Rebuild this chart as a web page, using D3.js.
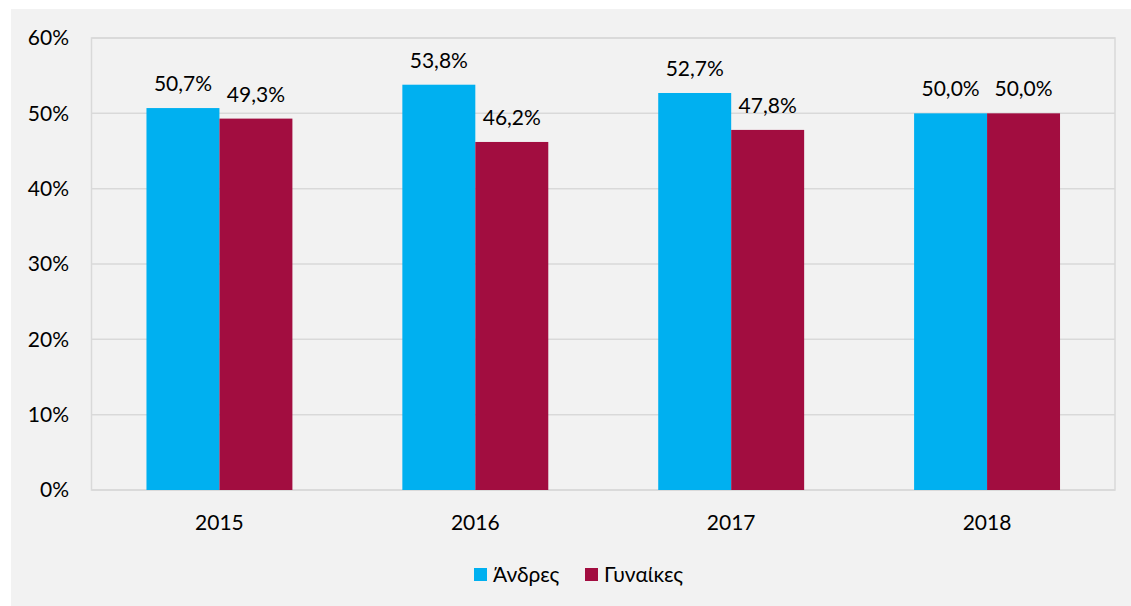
<!DOCTYPE html>
<html><head><meta charset="utf-8">
<script src="https://cdn.jsdelivr.net/npm/d3@7"></script>
<style>body{margin:0;background:#fff}svg{display:block}text{font-family:Lato,"Open Sans",sans-serif;fill:#000}</style>
</head><body><svg id="c" width="1131" height="606"></svg>
<script>
const years = ["2015","2016","2017","2018"];
const seriesNames = ["Άνδρες","Γυναίκες"];
const men = [50.7, 53.8, 52.7, 50.0];
const women = [49.3, 46.2, 47.8, 50.0];
const yTicks = [0,10,20,30,40,50,60];
const colors = ["#00B0F0","#A20D40"];
const FS = 21;

const svg = d3.select("#c");
svg.append("rect").attr("x",11).attr("y",9).attr("width",1120).attr("height",597).attr("fill","#f2f2f2");
const L=91.5,R=1115,T=38,B=490;
const x = d3.scaleBand().domain(years).range([L,R]).paddingInner(110/256).paddingOuter(55/256);
const x1 = d3.scaleBand().domain(seriesNames).range([0,x.bandwidth()]);
const y = d3.scaleLinear().domain([0,60]).range([B,T]);
const fmt = v => d3.format(".1f")(v).replace(".",",")+"%";

svg.append("g").selectAll("line").data(yTicks).join("line")
 .attr("x1",L).attr("x2",R).attr("y1",d=>y(d)).attr("y2",d=>y(d))
 .attr("stroke","#d9d9d9").attr("stroke-width",1.5);
svg.append("rect").attr("x",L).attr("y",T).attr("width",R-L).attr("height",B-T).attr("fill","none").attr("stroke","#d9d9d9").attr("stroke-width",1.5);

svg.append("g").selectAll("text").data(yTicks).join("text")
 .attr("x",69).attr("y",d=>y(d)).attr("dy","0.35em").attr("text-anchor","end").attr("font-size",FS).text(d=>d+"%");

const data = [men, women];
data.forEach((vals,si)=>{
  const g = svg.append("g");
  g.selectAll("rect").data(vals).join("rect")
   .attr("x",(d,i)=>x(years[i])+x1(seriesNames[si])).attr("width",x1.bandwidth())
   .attr("y",d=>y(d)).attr("height",d=>B-y(d)).attr("fill",colors[si]);
  g.selectAll("text").data(vals).join("text")
   .attr("x",(d,i)=>x(years[i])+x1(seriesNames[si])+x1.bandwidth()/2)
   .attr("y",d=>y(d)-17).attr("text-anchor","middle").attr("font-size",FS).text(fmt);
});

svg.append("g").selectAll("text").data(years).join("text")
 .attr("x",d=>x(d)+x.bandwidth()/2).attr("y",530).attr("text-anchor","middle").attr("font-size",FS).text(d=>d);

const leg = svg.append("g");
const legX=[474,585];
seriesNames.forEach((n,i)=>{
  leg.append("rect").attr("x",legX[i]).attr("y",568).attr("width",13).attr("height",13).attr("fill",colors[i]);
  leg.append("text").attr("x",legX[i]+19).attr("y",582).attr("font-size",FS).text(n);
});
</script></body></html>
